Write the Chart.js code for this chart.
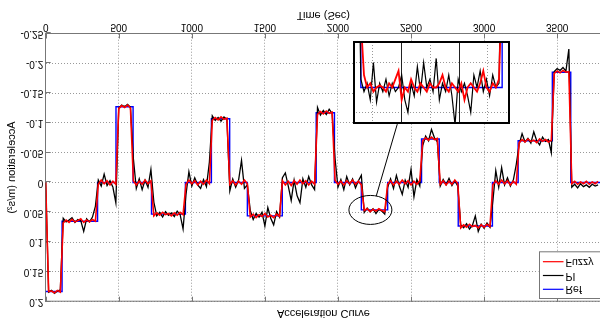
<!DOCTYPE html>
<html>
<head>
<meta charset="utf-8">
<script src="https://cdn.jsdelivr.net/npm/chart.js@4.4.1/dist/chart.umd.min.js"></script>
<style>
html,body{margin:0;padding:0;background:#fff;overflow:hidden;}
/* the reference figure is mirrored top to bottom, so the whole drawing is flipped */
#wrap{position:relative;width:601px;height:320px;transform:scaleY(-1);}
#inset{position:absolute;left:353px;top:196px;width:157px;height:83px;background:#fff;}
canvas{display:block;}
</style>
</head>
<body>
<div id="wrap">
<canvas id="main" width="601" height="320"></canvas>
<div id="inset"><canvas id="zoom" width="157" height="83"></canvas></div>
</div>
<script>
// DATA

// reference profile: time where each level starts, and the level
const refTime  = [0, 112, 355, 481, 598, 724, 956, 1134, 1259, 1380, 1619, 1851, 1976, 2160, 2340, 2572, 2693, 2823, 3057, 3233, 3467, 3593, 3800]
const refLevel = [0.183, 0.065, 0, -0.127, 0, 0.053, 0, -0.107, 0, 0.056, 0, -0.117, 0, 0.046, 0, -0.073, 0, 0.073, 0, -0.07, -0.185, 0, 0]

// PI and fuzzy responses, one sample every 20 s from t = 0
const SAMPLE_STEP = 20

const piAccel = [
0, 0.184, 0.181, 0.186, 0.182, 0.180,
0.060, 0.066, 0.063, 0.059, 0.067, 0.062, 0.064, 0.082, 0.061, 0.066, 0.058, 0.040,
-0.004, 0.006, -0.014, 0.005, -0.003, 0.008, 0.034,
-0.125, -0.130, -0.127, -0.131, -0.126,
-0.040, 0.010, -0.006, 0.012, -0.004, 0.008, -0.022,
0.033, 0.056, 0.050, 0.058, 0.049, 0.055, 0.051, 0.057, 0.048, 0.054, 0.078,
0.020, -0.018, 0.006, -0.008, 0.004, 0.010, -0.005, 0.007, -0.034,
-0.112, -0.104, -0.109, -0.103, -0.110, -0.106,
0.014, -0.006, 0.008, -0.004, -0.037, 0.010, 0.004,
0.047, 0.062, 0.052, 0.058, 0.050, 0.073, 0.042, 0.060, 0.071, 0.049, 0.058,
-0.008, -0.016, 0.006, 0.030, -0.004, 0.022, 0.034, -0.006, 0.008, -0.010, 0.004, 0.012,
-0.126, -0.113, -0.121, -0.114, -0.123, -0.116,
-0.040, 0.008, -0.005, 0.012, -0.010, 0.004, -0.006, 0.009, -0.003, -0.012,
0.050, 0.043, 0.049, 0.044, 0.052, 0.045, 0.048, 0.053,
0.008, -0.006, 0.010, -0.012, 0.006, 0.020, -0.004, 0.008, -0.022, 0.024, -0.005, 0.006,
-0.062, -0.078, -0.070, -0.089, -0.075, -0.068,
0.006, -0.005, 0.004, -0.007, 0.005, -0.003, 0.006,
0.071, 0.076, 0.069, 0.078, 0.072, 0.056, 0.082, 0.070, 0.077, 0.068, 0.075,
0.031, -0.020, 0.008, -0.025, 0.004, -0.008, 0.006, -0.004, -0.030,
-0.064, -0.082, -0.068, -0.074, -0.066, -0.085, -0.070, -0.063, -0.076, -0.069, -0.072, -0.050,
-0.186, -0.191, -0.188, -0.193, -0.187, -0.224,
0.008, 0.003, 0.009, 0.002, 0.007, 0.004, 0.008, 0.003, 0.006, 0.004
]

const fuzzyAccel = [
0, 0.183, 0.182, 0.185, 0.181, 0.184,
0.068, 0.063, 0.067, 0.062, 0.066, 0.064, 0.061, 0.067, 0.063, 0.066, 0.062, 0.065,
0.003, -0.004, 0.002, -0.003, 0.004, -0.002, 0.003,
-0.124, -0.129, -0.126, -0.130, -0.125,
-0.003, 0.004, -0.002, 0.003, -0.004, 0.002, -0.003,
0.056, 0.051, 0.055, 0.050, 0.054, 0.052, 0.056, 0.051, 0.055, 0.050, 0.054,
0.003, -0.004, 0.002, -0.003, 0.004, -0.002, 0.003, -0.004, 0.002,
-0.104, -0.109, -0.105, -0.110, -0.106, -0.108,
0.003, -0.003, 0.004, -0.002, 0.003, -0.004, 0.002,
0.058, 0.053, 0.059, 0.054, 0.057, 0.052, 0.058, 0.055, 0.059, 0.053, 0.057,
-0.003, 0.004, -0.002, 0.005, -0.003, 0.003, -0.004, 0.002, -0.003, 0.004, -0.002, 0.003,
-0.114, -0.119, -0.115, -0.120, -0.116, -0.118,
-0.004, 0.003, -0.002, 0.004, -0.003, 0.002, -0.004, 0.003, -0.002, 0.004,
0.047, 0.044, 0.049, 0.045, 0.048, 0.044, 0.047, 0.049,
0.003, -0.003, 0.004, -0.002, 0.003, -0.004, 0.002, -0.003, 0.004, -0.002, 0.003, -0.003,
-0.070, -0.075, -0.071, -0.076, -0.072, -0.074,
0.003, -0.003, 0.004, -0.002, 0.003, -0.004, 0.002,
0.076, 0.071, 0.075, 0.070, 0.074, 0.072, 0.076, 0.071, 0.075, 0.070, 0.074,
0.004, -0.003, 0.003, -0.004, 0.002, -0.003, 0.004, -0.002, 0.003,
-0.067, -0.072, -0.068, -0.073, -0.069, -0.071, -0.067, -0.073, -0.069, -0.072, -0.068, -0.071,
-0.183, -0.187, -0.184, -0.188, -0.185, -0.186,
0.002, -0.002, 0.003, -0.001, 0.002, -0.002, 0.003, -0.001, 0.002, -0.002
]

// zoomed window around the step at t = 2160..2340, one sample every 4 s
const INSET_START = 2152
const INSET_STEP = 4

const insetPi = [
0, 0, 0.044, 0.047, 0.045, 0.049, 0.040, 0.0495, 0.045, 0.047,
0.044, 0.048, 0.045, 0.047, 0.046, 0.043, 0.049, 0.052, 0.045, 0.048,
0.041, 0.047, 0.040, 0.046, 0.044, 0.047, 0.039, 0.049, 0.045, 0.047,
0.043, 0.048, 0.055, 0.044, 0.047, 0.045, 0.048, 0.052, 0.043, 0.046,
0.042, 0.047, 0.044, 0.048, 0.043, 0.046, 0.045, 0, 0, 0
]

const insetFuzzy = [
0, 0, 0.030, 0.043, 0.046, 0.045, 0.047, 0.046, 0.0455, 0.046,
0.047, 0.045, 0.046, 0.044, 0.042, 0.049, 0.046, 0.047, 0.044, 0.046,
0.047, 0.045, 0.046, 0.047, 0.045, 0.046, 0.046, 0.045, 0.043, 0.046,
0.047, 0.045, 0.046, 0.047, 0.045, 0.049, 0.046, 0.045, 0.046, 0.047,
0.045, 0.042, 0.046, 0.047, 0.045, 0.046, 0.044, 0.020, 0, 0
]

const xTicks = [0, 500, 1000, 1500, 2000, 2500, 3000, 3500]
const yTicks = [-0.25, -0.2, -0.15, -0.1, -0.05, 0, 0.05, 0.1, 0.15, 0.2]

const seriesNames = ["Ref", "PI", "Fuzzy"]
const seriesColors = ["#0000ff", "#000000", "#ff0000"]

// inset grid and marker lines (inset units)
const insetGridT = [2174, 2248, 2321]
const insetGridA = [0.0401, 0.0522]
const insetMarkT = [2211, 2285]

// highlight ellipse and the line that joins it to the inset
const spot = {t: 2222, a: 0.046, rx: 21.5, ry: 14.5}
const leader = {t1: 2262, a1: 0.0227, t2: 2406, a2: -0.098}

const FONT = "'Liberation Sans', Arial, sans-serif"


function points(xs, ys){
return ys.map((y, i) => ({x: xs[i], y: y}))
}

const sampleTime = piAccel.map((v, i) => i * SAMPLE_STEP)
const insetTime = insetPi.map((v, i) => INSET_START + i * INSET_STEP)


// box, inward ticks, title, legend, highlight
const mainDeco = {
id: "mainDeco",
beforeDatasetsDraw(chart){
const {ctx, chartArea: a, scales: {x, y}} = chart
ctx.save()
ctx.strokeStyle = "#777"
ctx.lineWidth = 1
ctx.beginPath()
ctx.moveTo(a.left, a.top + 0.5)
ctx.lineTo(a.right, a.top + 0.5)
xTicks.forEach(t => {
const px = Math.round(x.getPixelForValue(t)) + 0.5
ctx.moveTo(px, a.bottom); ctx.lineTo(px, a.bottom - 5)
ctx.moveTo(px, a.top); ctx.lineTo(px, a.top + 5)
})
yTicks.forEach(v => {
const py = Math.round(y.getPixelForValue(v)) + 0.5
ctx.moveTo(a.left, py); ctx.lineTo(a.left + 5, py)
})
ctx.stroke()
ctx.restore()
},
afterDraw(chart){
const {ctx, chartArea: a, scales: {x, y}} = chart
ctx.save()

// title
ctx.fillStyle = "#000"
ctx.font = "11px " + FONT
ctx.textAlign = "center"
ctx.textBaseline = "middle"
ctx.fillText("Acceleration Curve", (a.left + a.right) / 2, 7)

// highlight ellipse + leader line
ctx.strokeStyle = "#000"
ctx.lineWidth = 1
ctx.beginPath()
ctx.ellipse(x.getPixelForValue(spot.t), y.getPixelForValue(spot.a), spot.rx, spot.ry, 0, 0, Math.PI * 2)
ctx.stroke()
ctx.beginPath()
ctx.moveTo(x.getPixelForValue(leader.t1), y.getPixelForValue(leader.a1))
ctx.lineTo(x.getPixelForValue(leader.t2), y.getPixelForValue(leader.a2))
ctx.stroke()

// legend
const bw = 61, bh = 46.7
const bx = a.right - 1.5 - bw, by = a.top + 2.7
ctx.fillStyle = "#fff"
ctx.fillRect(bx, by, bw, bh)
ctx.strokeStyle = "#777"
ctx.strokeRect(Math.round(bx) + 0.5, Math.round(by) + 0.5, bw, bh)
ctx.font = "10.5px " + FONT
ctx.textAlign = "left"
seriesNames.forEach((name, i) => {
const ly = by + 9.7 + i * 13.8
ctx.strokeStyle = seriesColors[i]
ctx.lineWidth = 1.2
ctx.beginPath()
ctx.moveTo(bx + 4.4, ly)
ctx.lineTo(bx + 25, ly)
ctx.stroke()
ctx.fillStyle = "#000"
ctx.fillText(name, bx + 27, ly)
})
ctx.restore()
}
}

new Chart(document.getElementById("main"), {
type: "line",
data: {
datasets: [
{label: "Fuzzy", data: points(sampleTime, fuzzyAccel), borderColor: seriesColors[2], borderWidth: 1.6, order: 0},
{label: "PI", data: points(sampleTime, piAccel), borderColor: seriesColors[1], borderWidth: 1.3, order: 1},
{label: "Ref", data: points(refTime, refLevel), borderColor: seriesColors[0], borderWidth: 1.4, stepped: true, order: 2}
]
},
options: {
responsive: false,
animation: false,
devicePixelRatio: 1,
layout: {padding: {top: 18.3, left: 0, right: 0, bottom: 0}},
elements: {point: {radius: 0}, line: {tension: 0}},
plugins: {legend: {display: false}, tooltip: {enabled: false}},
scales: {
x: {
type: "linear", min: 0, max: 3800,
afterBuildTicks: s => { s.ticks = xTicks.map(v => ({value: v})) },
afterFit: s => { s.height = 33.5 },
ticks: {autoSkip: false, maxRotation: 0, padding: 1, color: "#000", font: {family: FONT, size: 10}, callback: v => String(v)},
title: {display: true, text: "Time (Sec)", color: "#000", font: {family: FONT, size: 11}, padding: {top: 0, bottom: 8.4}},
grid: {color: "#999", drawTicks: false},
border: {color: "#777", width: 1, dash: [1, 2]}
},
y: {
min: -0.25, max: 0.2,
afterBuildTicks: s => { s.ticks = yTicks.map(v => ({value: v})) },
afterFit: s => { s.width = 45.7 },
ticks: {autoSkip: false, padding: 2.5, color: "#000", font: {family: FONT, size: 10}, callback: v => String(+v.toFixed(2))},
title: {display: true, text: "Acceleration (m/s²)", color: "#000", font: {family: FONT, size: 11}, padding: {top: 5.4, bottom: 0}},
grid: {color: "#999", drawTicks: false},
border: {color: "#777", width: 1, dash: [1, 2]}
}
}
},
plugins: [mainDeco]
})


// INSET

const insetDeco = {
id: "insetDeco",
beforeDatasetsDraw(chart){
const {ctx, chartArea: a, scales: {x, y}} = chart
ctx.save()
ctx.strokeStyle = "#999"
ctx.lineWidth = 1
ctx.setLineDash([1, 2])
ctx.beginPath()
insetGridT.forEach(t => {
const px = Math.round(x.getPixelForValue(t)) + 0.5
ctx.moveTo(px, a.top); ctx.lineTo(px, a.bottom)
})
insetGridA.forEach(v => {
const py = Math.round(y.getPixelForValue(v)) + 0.5
ctx.moveTo(a.left, py); ctx.lineTo(a.right, py)
})
ctx.stroke()
ctx.setLineDash([])
ctx.strokeStyle = "#222"
ctx.beginPath()
insetMarkT.forEach(t => {
const px = Math.round(x.getPixelForValue(t)) + 0.5
ctx.moveTo(px, a.top); ctx.lineTo(px, a.bottom)
})
ctx.stroke()
ctx.restore()
},
afterDraw(chart){
const {ctx, width, height} = chart
ctx.save()
ctx.strokeStyle = "#000"
ctx.lineWidth = 2
ctx.strokeRect(1, 1, width - 2, height - 2)
ctx.restore()
}
}

new Chart(document.getElementById("zoom"), {
type: "line",
data: {
datasets: [
{data: points(insetTime, insetFuzzy), borderColor: seriesColors[2], borderWidth: 1.8, order: 0},
{data: points(insetTime, insetPi), borderColor: seriesColors[1], borderWidth: 1.2, order: 1},
{data: points(refTime, refLevel), borderColor: seriesColors[0], borderWidth: 1.4, stepped: true, order: 2}
]
},
options: {
responsive: false,
animation: false,
devicePixelRatio: 1,
layout: {padding: 0},
elements: {point: {radius: 0}, line: {tension: 0}},
plugins: {legend: {display: false}, tooltip: {enabled: false}},
scales: {
x: {type: "linear", min: 2150, max: 2350, display: false},
y: {min: 0.0348, max: 0.0548, display: false}
}
},
plugins: [insetDeco]
})
</script>
</body>
</html>
